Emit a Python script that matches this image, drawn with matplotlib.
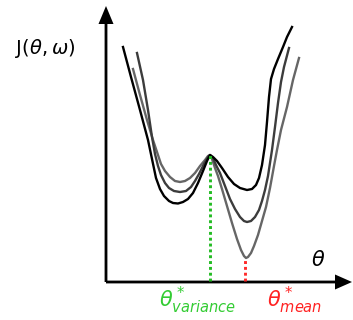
import matplotlib
matplotlib.use("Agg")
import matplotlib.pyplot as plt

plt.rcParams['mathtext.fontset'] = 'dejavusans'

# curves: (theta, J) in arbitrary units, origin at the axes corner
black_theta = [17, 25, 34, 42, 46, 50, 54, 58, 63, 67, 72, 77, 82, 87, 92, 97, 101, 104,
               107, 111, 116, 122, 128, 134, 141, 146, 150, 153, 156, 159, 161, 163,
               165, 168, 172, 177, 181, 186]
black_J = [235, 205, 172, 142, 123, 104, 93, 86, 81, 79, 78.5, 80, 83, 89, 99, 111, 121, 127,
           125, 121, 114, 105, 98, 94, 92, 93, 97, 104, 117, 137, 160, 185,
           203, 213, 223, 235, 245, 255]

dark_theta = [31, 37, 42, 46, 49, 52, 55, 59, 63, 68, 74, 80, 85, 89, 93, 98, 102, 104,
              107, 110, 114, 119, 124, 129, 134, 138, 141, 145, 149, 153, 156, 159,
              162, 166, 169, 172, 175, 178, 183]
dark_J = [229, 202, 172, 145, 128, 116, 107, 99, 94, 91, 90, 91, 95, 101, 108, 118, 125, 127,
          124, 117, 109, 96, 83, 73, 65, 61, 60, 61, 65, 72, 81, 92,
          106, 132, 155, 179, 200, 215, 234]

light_theta = [27, 34, 41, 47, 51, 55, 59, 64, 69, 74, 79, 84, 89, 94, 99, 102, 104,
               106, 109, 112, 116, 121, 126, 131, 135, 138, 140, 142, 145, 148, 152,
               156, 160, 164, 168, 171, 175, 181, 187, 193]
light_J = [213, 187, 162, 142, 130, 118, 111, 105, 101, 100, 101, 104, 109, 116, 122, 126, 127,
           123, 114, 106, 93, 76, 59, 43, 32, 26, 24, 25, 29, 36, 47,
           61, 75, 94, 116, 132, 152, 175, 202, 224]

theta_variance = 104
J_variance = 127
theta_mean = 139
J_mean = 24

fig = plt.figure(figsize=(3.53, 3.20), dpi=100)
ax = fig.add_axes([0, 0, 1, 1])
ax.set_xlim(-106, 247)
ax.set_ylim(-38, 282)
ax.axis('off')

# axes with arrow heads
ax.arrow(0, 0, 229, 0, width=2.8, head_width=15, head_length=17,
         length_includes_head=False, color='black', lw=0)
ax.arrow(0, 0, 0, 258, width=2.8, head_width=15, head_length=18,
         length_includes_head=False, color='black', lw=0)

ax.plot(light_theta, light_J, color='#666666', lw=1.7, solid_joinstyle='round')
ax.plot(dark_theta, dark_J, color='#3c3c3c', lw=1.7, solid_joinstyle='round')
ax.plot(black_theta, black_J, color='black', lw=1.7, solid_joinstyle='round')

ax.plot([theta_variance, theta_variance], [1, J_variance], color='#22bb22', lw=2.1,
        linestyle=(0, (1, 1)), dash_capstyle='butt')
ax.plot([theta_mean, theta_mean], [1, J_mean], color='#ff2a2a', lw=2.1,
        linestyle=(0, (1, 1)), dash_capstyle='butt')

ax.text(-61, 233, r'$\mathsf{J}(\theta,\omega)$', fontsize=14, ha='center', va='center')
ax.text(212, 22, r'$\theta$', fontsize=15, ha='center', va='center')
ax.text(92, -18, r'$\theta^*_{\mathit{variance}}$', fontsize=15, color='#33cc33',
        ha='center', va='center')
ax.text(189, -18, r'$\theta^*_{\mathit{mean}}$', fontsize=15, color='#ff2222',
        ha='center', va='center')

fig.savefig('out.png', dpi=100)
